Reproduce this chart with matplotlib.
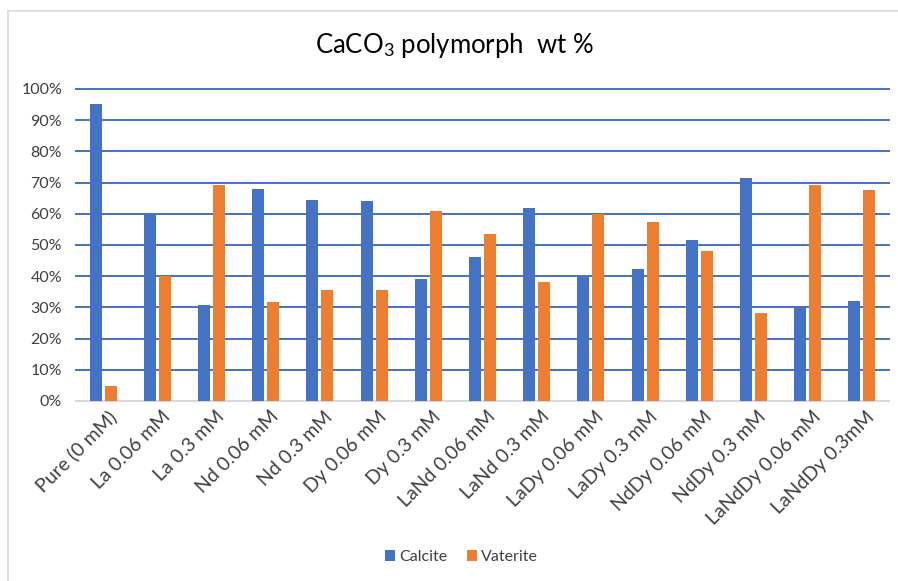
"""
CaCO3 polymorph fractions (calcite vs vaterite) for pure and REE-doped samples.
Saves: out.png
"""

import numpy as np
import matplotlib.pyplot as plt
import matplotlib.transforms as mtransforms
from matplotlib.lines import Line2D

plt.rcParams.update({
    "font.family": ["Lato", "DejaVu Sans"],
    "mathtext.fontset": "custom",
    "mathtext.rm": "Lato",
    "mathtext.it": "Lato:italic",
})

BLUE   = "#4472C4"
ORANGE = "#ED7D31"
GRID   = "#D9D9D9"
TEXT   = "#404040"

samples = ["Pure (0 mM)", "La 0.06 mM", "La 0.3 mM", "Nd 0.06 mM", "Nd 0.3 mM",
           "Dy 0.06 mM", "Dy 0.3 mM", "LaNd 0.06 mM", "LaNd 0.3 mM", "LaDy 0.06 mM",
           "LaDy 0.3 mM", "NdDy 0.06 mM", "NdDy 0.3 mM", "LaNdDy 0.06 mM", "LaNdDy 0.3mM"]
calcite  = [0.951, 0.598, 0.308, 0.679, 0.643, 0.640, 0.390, 0.463, 0.620, 0.400,
            0.423, 0.516, 0.716, 0.306, 0.321]
vaterite = [0.049, 0.401, 0.691, 0.318, 0.357, 0.357, 0.610, 0.534, 0.381, 0.598,
            0.574, 0.481, 0.281, 0.691, 0.677]

fig = plt.figure(figsize=(8.98, 5.81), dpi=100)
ax = fig.add_axes([76/898, 1 - 401/581, 813/898, 312/581])

x = np.arange(len(samples))
w = 0.22
ax.bar(x - 0.138, calcite,  w, color=BLUE,   label="Calcite",  zorder=3)
ax.bar(x + 0.138, vaterite, w, color=ORANGE, label="Vaterite", zorder=3)

ax.set_xlim(-0.5, len(samples) - 0.5)
ax.set_ylim(0, 1.0)
ax.set_yticks(np.arange(0, 1.01, 0.1))
ax.set_yticklabels([f"{int(round(v*100))}%" for v in np.arange(0, 1.01, 0.1)],
                   fontsize=11.5, color=TEXT)
ax.set_xticks(x)
ax.set_xticklabels(samples, rotation=45, ha="right", rotation_mode="anchor",
                   fontsize=14, color=TEXT)
ax.tick_params(axis="y", length=0, pad=10)
ax.tick_params(axis="x", length=0, pad=5)

# nudge rotated category labels a little to the right
shift = mtransforms.ScaledTranslation(4/100, 0, fig.dpi_scale_trans)
for lbl in ax.get_xticklabels():
    lbl.set_transform(lbl.get_transform() + shift)

# blue horizontal gridlines, zero line in light grey
for v in np.arange(0.1, 1.01, 0.1):
    ax.axhline(v, color=BLUE, linewidth=1.4, zorder=1, clip_on=False)
for s in ["top", "right", "left"]:
    ax.spines[s].set_visible(False)
ax.spines["bottom"].set_color(GRID)
ax.spines["bottom"].set_linewidth(1.5)

fig.text(0.506, 1 - 46/581, "CaCO$_3$ polymorph  wt %", ha="center", va="center",
         fontsize=18.5, color="black")

# chart area border
fig.add_artist(Line2D([8/898, 8/898], [0, 1 - 11/581], color=GRID, linewidth=1.2))
fig.add_artist(Line2D([8/898, 1], [1 - 11/581, 1 - 11/581], color=GRID, linewidth=1.2))

fig.legend(loc="center", bbox_to_anchor=(0.514, 1 - 557/581), ncol=2, frameon=False,
           fontsize=11.5, handlelength=0.65, handleheight=0.65, handletextpad=0.25,
           columnspacing=1.2, labelcolor=TEXT)

fig.savefig("out.png", dpi=100)
